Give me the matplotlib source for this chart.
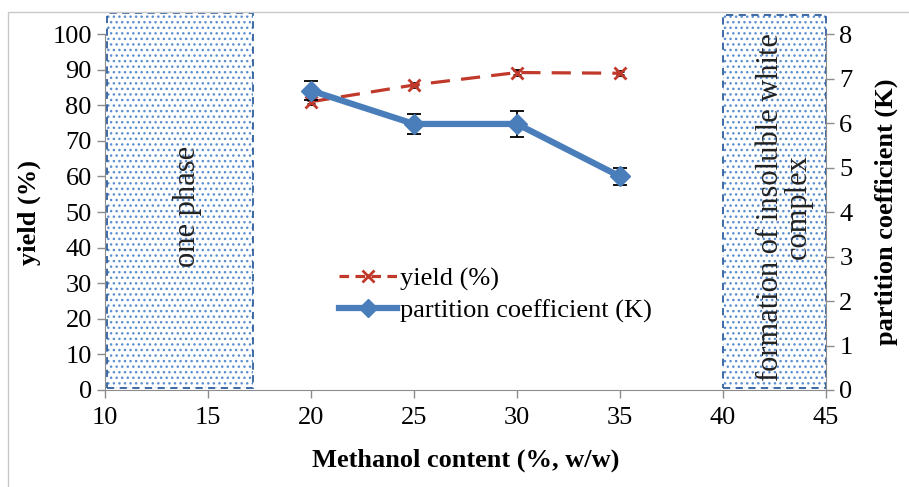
import matplotlib
matplotlib.use('Agg')
import matplotlib.pyplot as plt
from matplotlib.patches import Rectangle
from matplotlib.lines import Line2D

# data
methanol = [20, 25, 30, 35]
yield_pct = [81.0, 85.7, 89.2, 89.0]
yield_err = [0.6, 0.6, 0.6, 0.6]
k_coef = [6.73, 5.98, 5.98, 4.8]
k_err = [0.22, 0.22, 0.30, 0.20]

one_phase = (10.1, 17.2)
insoluble = (40.0, 45.0)

plt.rcParams['font.family'] = ['Liberation Serif', 'DejaVu Serif']

fig = plt.figure(figsize=(9.09, 4.87), dpi=100)
ax = fig.add_axes([0.1155, 0.1992, 0.7932, 0.7308])
ax2 = ax.twinx()

gray = '#8c8c8c'
red = '#c0392b'
blue = '#4a7ebb'
fs = 19

# outer frame of the picture
fig.patches.append(Rectangle((8 / 909, -0.1), 1.2, 1.1 - 12 / 487, transform=fig.transFigure,
                             fill=False, edgecolor='#c8c8c8', lw=1.0))

# shaded regions
for (x0, x1), top, txt, tx in [(one_phase, 106, 'one phase', 14.0),
                                (insoluble, 105.3, 'formation of insoluble white\ncomplex', 43.0)]:
    ax.add_patch(Rectangle((x0, 0.5), x1 - x0, top - 0.5, facecolor='white',
                           edgecolor='#5b8fd0', hatch='...', lw=0, clip_on=False, zorder=1))
    ax.add_patch(Rectangle((x0, 0.5), x1 - x0, top - 0.5, fill=False,
                           edgecolor='#2f5f9e', ls=(0, (4, 3)), lw=1.3, clip_on=False, zorder=2))
    ax.text(tx, 51.5, txt, rotation=90, ha='center', va='center',
            fontsize=22, color='#222222', zorder=3, linespacing=0.95)

ax.errorbar(methanol, yield_pct, yerr=yield_err, color=red, ls=(0, (6, 3.5)), lw=2.3,
            marker='x', ms=8, mew=2, ecolor='black', elinewidth=1, capsize=3, zorder=4)
ax2.errorbar(methanol, k_coef, yerr=k_err, color=blue, lw=4.5, marker='D', ms=10,
             ecolor='black', elinewidth=1.3, capsize=5, capthick=1.3, zorder=5)

ax.set_xlim(10, 45)
ax.set_ylim(0, 100)
ax2.set_ylim(0, 8)
ax.set_xticks(range(10, 46, 5))
ax.set_yticks(range(0, 101, 10))
ax2.set_yticks(range(0, 9))

for a in (ax, ax2):
    a.spines['top'].set_visible(False)
    for s in a.spines.values():
        s.set_color(gray)
    a.tick_params(labelsize=fs, color=gray, length=6, width=1, direction='out')
ax2.spines['left'].set_visible(False)
ax2.spines['bottom'].set_visible(False)
ax.spines['right'].set_visible(False)
ax.tick_params(axis='x', pad=6)

ax.set_xlabel('Methanol content (%, w/w)', fontsize=fs, fontweight='bold', labelpad=14)
ax.set_ylabel('yield (%)', fontsize=fs, fontweight='bold', labelpad=8)
ax2.set_ylabel('partition coefficient (K)', fontsize=fs, fontweight='bold', labelpad=16)

ax2.set_zorder(ax.get_zorder() + 1)
ax2.patch.set_visible(False)

handles = [Line2D([], [], color=red, ls=(0, (3, 2)), lw=2.3, marker='x', ms=8, mew=2),
           Line2D([], [], color=blue, lw=4.5, marker='D', ms=9)]
ax2.legend(handles, ['yield (%)', 'partition coefficient (K)'], loc='upper left',
           bbox_to_anchor=(0.31, 0.375), frameon=False, fontsize=fs,
           handlelength=2.2, handletextpad=0.1, labelspacing=0.3, borderaxespad=0)

fig.savefig('out.png', dpi=100)
